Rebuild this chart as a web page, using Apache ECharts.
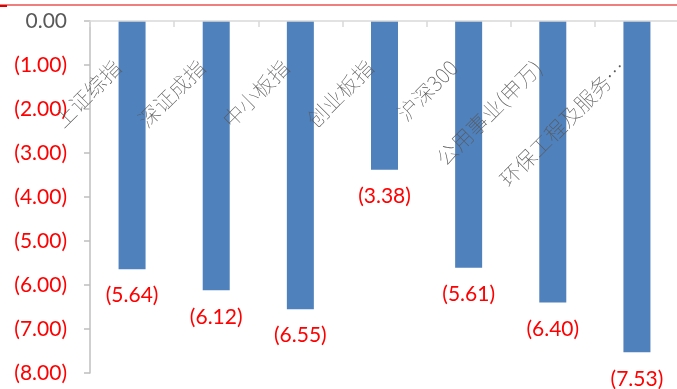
<!DOCTYPE html>
<html>
<head>
<meta charset="utf-8">
<script src="https://cdn.jsdelivr.net/npm/echarts@6/dist/echarts.min.js"></script>
<style>
html,body{margin:0;padding:0;background:#fff;}
#c{width:677px;height:389px;}
</style>
</head>
<body>
<div id="c"></div>
<script>
var categories = ['上证综指', '深证成指', '中小板指', '创业板指', '沪深300', '公用事业(申万)', '环保工程及服务…'];
var values = [-5.64, -6.12, -6.55, -3.38, -5.61, -6.40, -7.53];
var yMin = -8, yMax = 0, yStep = 1;

function fmt(v) {
  if (v === 0) return '0.00';
  var s = Math.abs(v).toFixed(2);
  return v < 0 ? '(' + s + ')' : s;
}

var chart = echarts.init(document.getElementById('c'));
chart.setOption({
  animation: false,
  backgroundColor: '#fff',
  grid: {left: 90, top: 21, right: -2, bottom: 16, containLabel: false, outerBoundsMode: 'none'},
  graphic: [
    {type: 'line', shape: {x1: 0, y1: 5, x2: 677, y2: 5}, style: {stroke: '#e00000', lineWidth: 1.2}},
    {type: 'rect', shape: {x: 0, y: 5, width: 7, height: 2}, style: {fill: '#e00000'}}
  ],
  xAxis: {
    type: 'category',
    position: 'top',
    z: 5,
    data: categories,
    axisLine: {onZero: false, lineStyle: {color: '#d9d9d9', width: 1.5}},
    axisTick: {show: true, inside: true, length: 6, lineStyle: {color: '#d9d9d9', width: 1.5}},
    axisLabel: {
      inside: true,
      rotate: -45, margin: 28, interval: 0,
      align: 'right', verticalAlign: 'middle',
      padding: [0, 21, 0, 0],
      color: '#595959', fontSize: 21,
      fontFamily: '"Noto Sans CJK SC", sans-serif', fontWeight: 'lighter'
    }
  },
  yAxis: {
    type: 'value', min: yMin, max: yMax, interval: yStep,
    splitLine: {show: false},
    axisLine: {show: true, lineStyle: {color: '#bfbfbf', width: 1.5}},
    axisTick: {show: true, length: 6, lineStyle: {color: '#bfbfbf', width: 1.5}},
    axisLabel: {
      margin: 23, fontSize: 21, fontFamily: 'Lato, sans-serif',
      formatter: fmt,
      color: function (v) { return Number(v) < 0 ? '#ff0000' : '#595959'; }
    }
  },
  series: [{
    type: 'bar',
    data: values,
    barWidth: 27,
    itemStyle: {color: '#4f81bd'},
    label: {
      show: true, position: 'bottom', distance: 16,
      color: '#ff0000', fontSize: 21, fontFamily: 'Lato, sans-serif',
      formatter: function (p) { return fmt(p.value); }
    }
  }]
});
</script>
</body>
</html>
